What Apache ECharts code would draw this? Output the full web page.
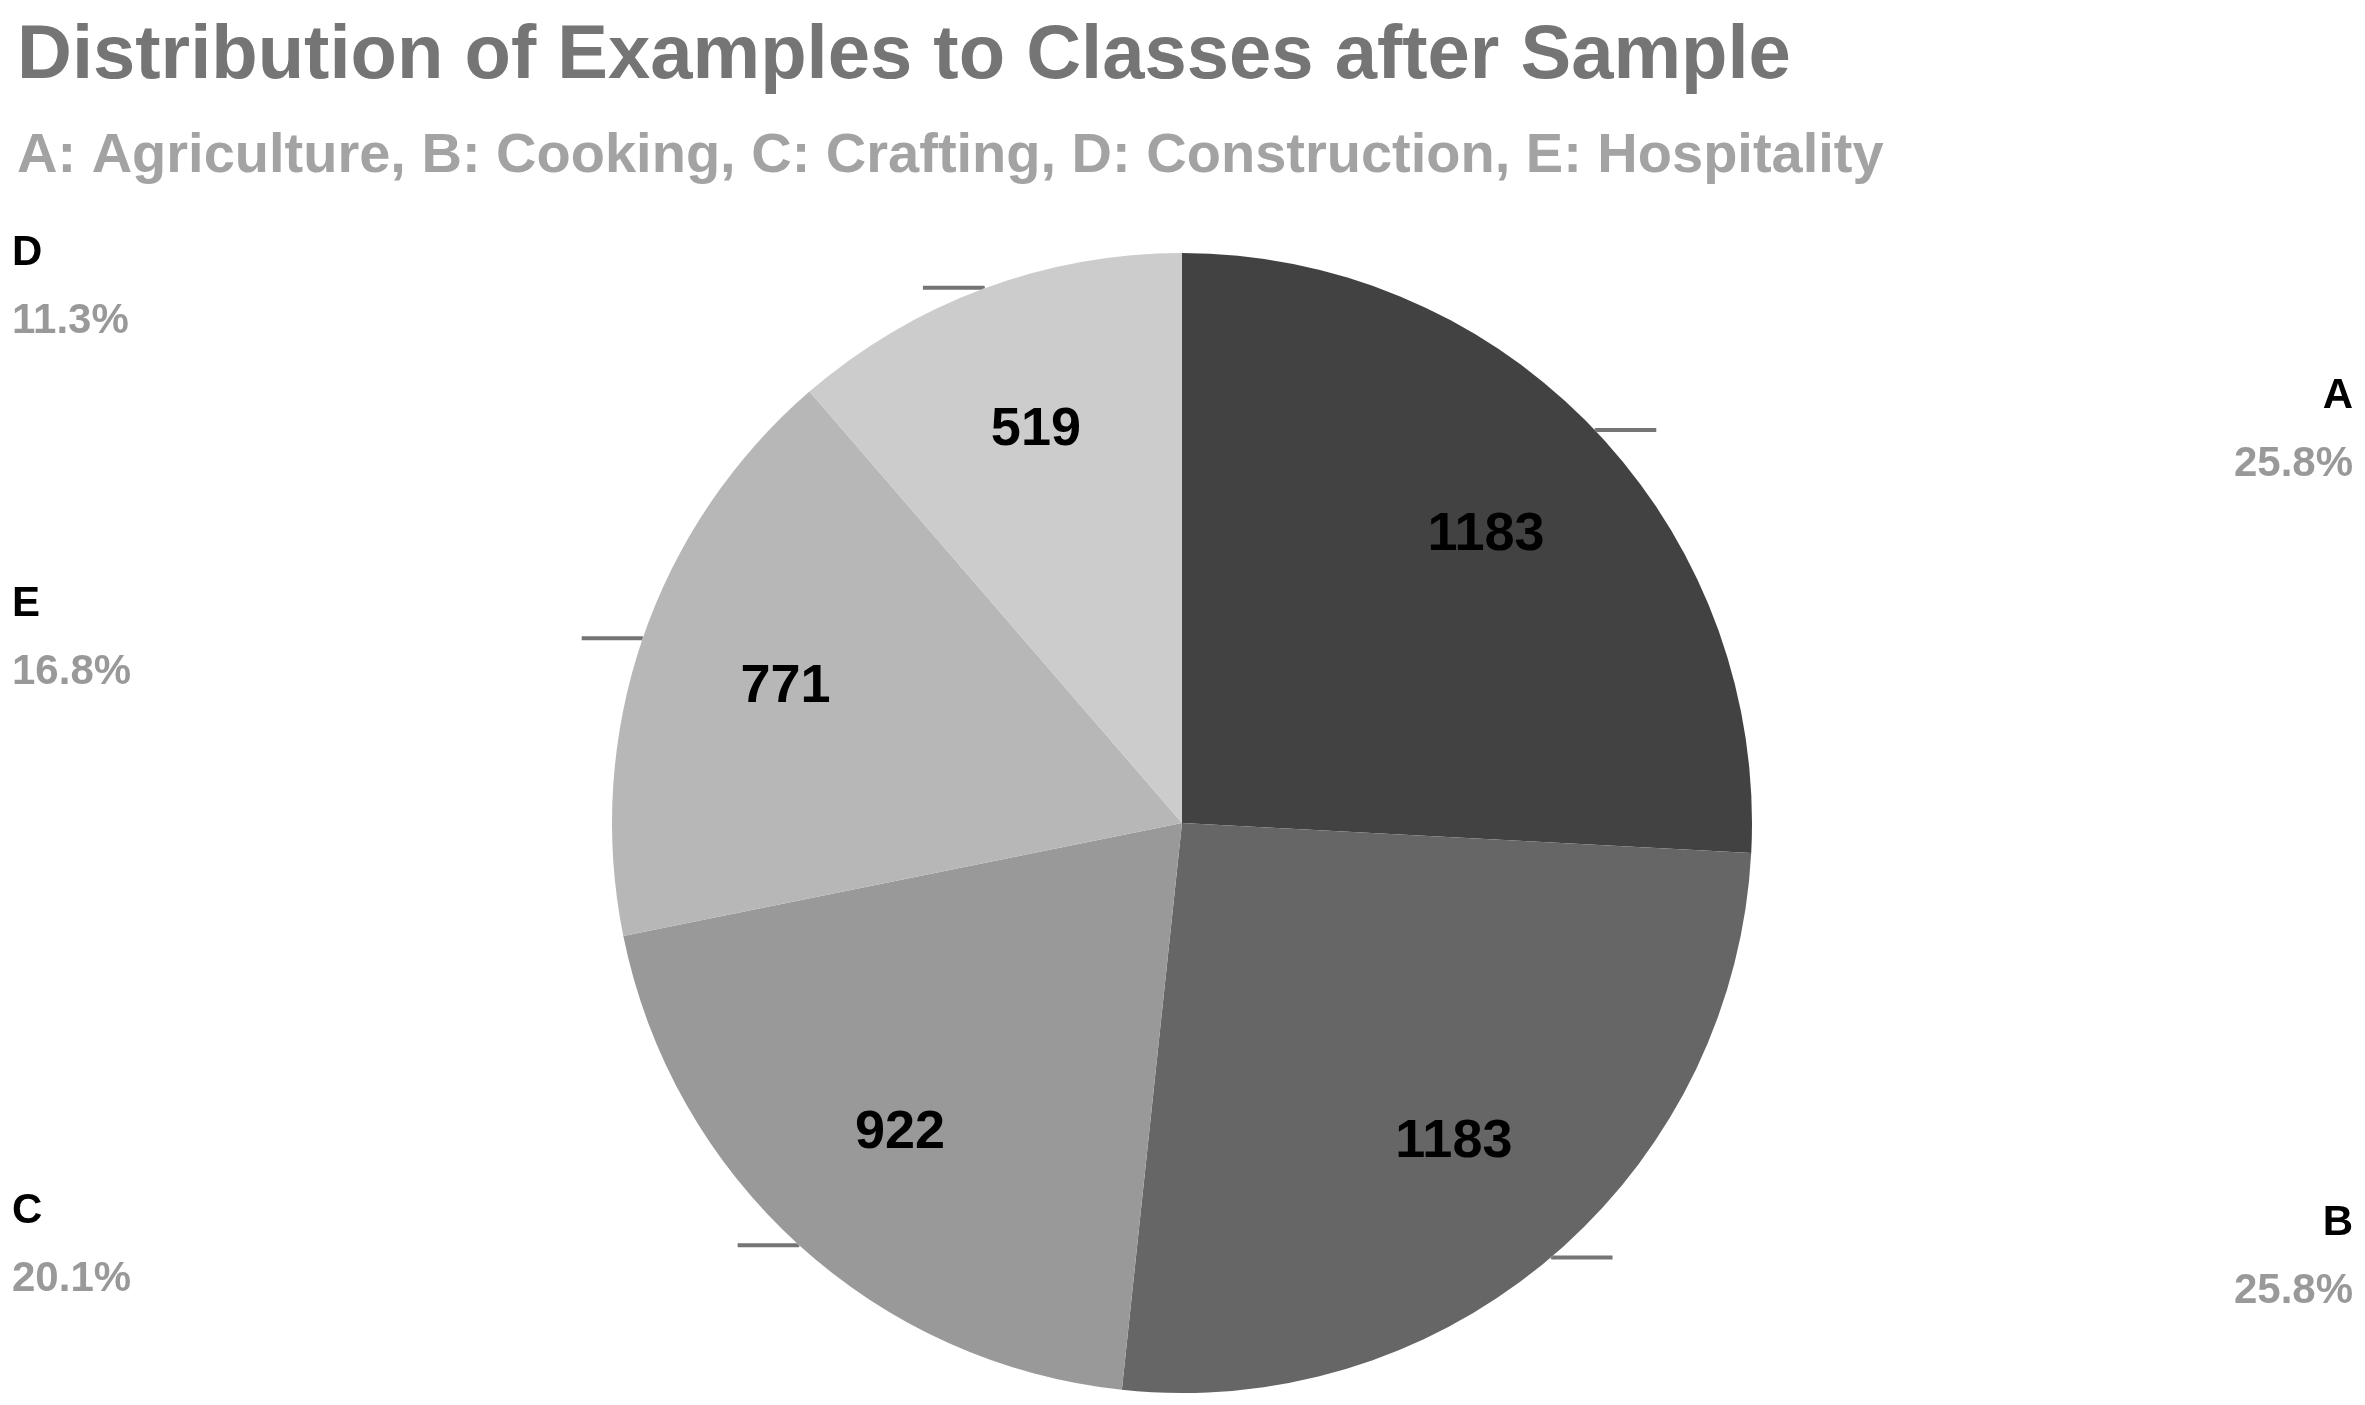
<!DOCTYPE html>
<html>
<head>
<meta charset="utf-8">
<script src="https://cdn.jsdelivr.net/npm/echarts@6/dist/echarts.min.js"></script>
<style>html,body{margin:0;padding:0;background:#fff}#chart{width:2365px;height:1405px}</style>
</head>
<body>
<div id="chart"></div>
<script>
// slice order, clockwise from 12 o'clock
var classNames = ["A", "B", "C", "E", "D"];
var classCounts = [1183, 1183, 922, 771, 519];
var sliceColors = ["#424242", "#666666", "#999999", "#b7b7b7", "#cccccc"];

var total = classCounts.reduce(function (a, b) { return a + b; }, 0);
var chart = echarts.init(document.getElementById('chart'));
var font = '"Liberation Sans", Arial, sans-serif';

var data = classNames.map(function (n, i) {
    return { name: n, value: classCounts[i], itemStyle: { color: sliceColors[i] } };
});

var option = {
    backgroundColor: '#ffffff',
    title: {
        left: 12, top: 14,
        text: 'Distribution of Examples to Classes after Sample',
        subtext: 'A: Agriculture, B: Cooking, C: Crafting, D: Construction, E: Hospitality',
        itemGap: 34,
        textStyle: { fontFamily: font, fontWeight: 'bold', fontSize: 76, color: '#757575' },
        subtextStyle: { fontFamily: font, fontWeight: 'bold', fontSize: 56, color: '#a3a3a3' }
    },
    series: [{
        type: 'pie',
        center: [1182, 823],
        radius: 570,
        startAngle: 90,
        clockwise: true,
        silent: true,
        avoidLabelOverlap: false,
        data: data,
        label: {
            position: 'outside',
            alignTo: 'edge',
            edgeDistance: 12,
            formatter: function (p) {
                return '{n|' + p.name + '}\n{p|' + (p.value / total * 100).toFixed(1) + '%}';
            },
            rich: {
                n: { fontFamily: font, fontWeight: 'bold', fontSize: 42, color: '#000', lineHeight: 68 },
                p: { fontFamily: font, fontWeight: 'bold', fontSize: 42, color: '#999', lineHeight: 68 }
            }
        },
        labelLine: {
            show: true, length: 1, length2: 60,
            lineStyle: { color: '#757575', width: 4 }
        }
    }, {
        // transparent ring used only to place the value labels further out
        type: 'pie',
        center: [1182, 823],
        radius: 832,
        startAngle: 90,
        clockwise: true,
        silent: true,
        data: data.map(function (d) {
            return { name: d.name, value: d.value, itemStyle: { color: 'rgba(0,0,0,0)' } };
        }),
        label: {
            position: 'inside',
            formatter: '{c}',
            fontFamily: font, fontWeight: 'bold', fontSize: 54, color: '#000'
        },
        labelLine: { show: false }
    }]
};
chart.setOption(option);
</script>
</body>
</html>
